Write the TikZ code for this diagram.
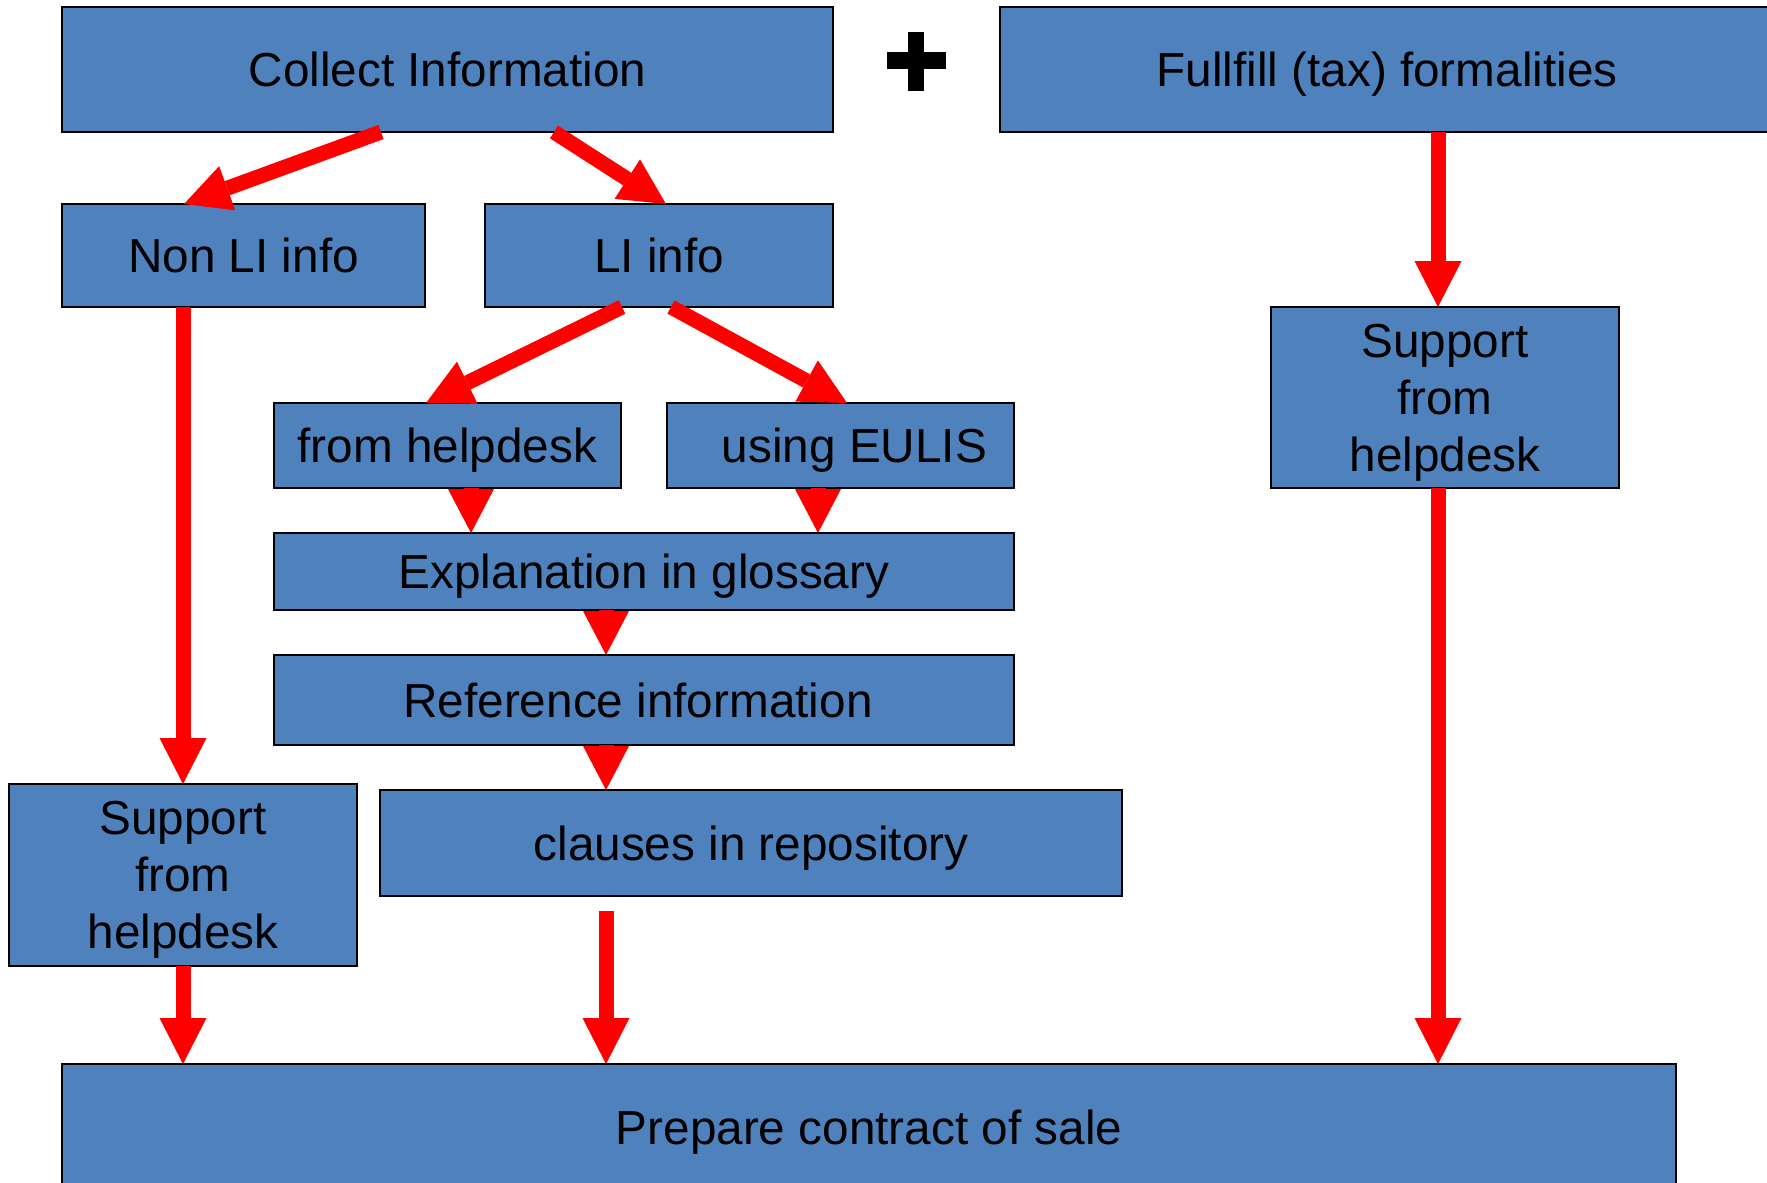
\documentclass[tikz,border=0pt]{standalone}
\usepackage{fontspec}
\setmainfont{Liberation Sans}
\usetikzlibrary{arrows.meta}
\definecolor{boxblue}{RGB}{79,129,189}
\definecolor{arrred}{RGB}{255,0,0}
\begin{document}
\begin{tikzpicture}[x=0.5pt,y=-0.5pt,
  box/.style={draw=black, line width=0.8pt, fill=boxblue, inner sep=0pt, outer sep=0pt,
    align=center, text=black, text depth=0pt, font=\fontsize{23.85}{28.5}\selectfont},
  arr/.style={draw=arrred, line width=7.5pt,
    -{Triangle[width=23.5pt,length=23pt,line width=0pt]}},
  stub/.style={draw=arrred, line width=7.5pt,
    -{Triangle[width=23pt,length=22pt,line width=0pt]}}]
\useasboundingbox (0,0) rectangle (1767,1183);
\fill[white] (0,0) rectangle (1767,1183);

% boxes
\node[box, minimum width=385.5pt, minimum height=62.5pt] (ci) at (447.5,69.5) {Collect Information};
\node[box, minimum width=387pt, minimum height=62.5pt] (ff) at (1387,69.5) {Fullfill (tax) formalities};
\node[box, minimum width=181.5pt, minimum height=51.5pt] (nonli) at (243.5,255.5) {Non LI info};
\node[box, minimum width=174pt, minimum height=51.5pt] (li) at (659,255.5) {LI info};
\node[box, minimum width=173.5pt, minimum height=42.5pt] (fh) at (447.5,445.5) {from helpdesk};
\node[box, minimum width=173.5pt, minimum height=42.5pt] (ue) at (840.5,445.5) {\hspace*{14pt}using EULIS};
\node[box, minimum width=370pt, minimum height=38.5pt] (ex) at (644,571.5) {Explanation in glossary};
\node[box, minimum width=370pt, minimum height=45pt] (ri) at (644,700) {Reference information\hspace*{6pt}};
\node[box, minimum width=371pt, minimum height=53pt] (cr) at (751,843) {clauses in repository};
\node[box, minimum width=174pt, minimum height=91pt] (sl) at (183,875) {Support\\from\\helpdesk};
\node[box, minimum width=174pt, minimum height=90.5pt] (sr) at (1445,397.5) {Support\\from\\helpdesk};
\node[box, minimum width=807pt, minimum height=63pt] (pc) at (869,1127) {Prepare contract of sale};

% plus sign
\fill[black] (908,32) rectangle (924,91);
\fill[black] (887,52) rectangle (946,69);

% connectors
\draw[arr] ([xshift=-33.25pt]ci.south) -- ([xshift=-29.75pt]nonli.north);
\draw[arr] ([xshift=53.25pt]ci.south) -- ([xshift=3.5pt]li.north);
\draw[arr] (nonli.south -| sl.north) -- (sl.north);
\draw[arr] ([xshift=-18.5pt]li.south) -- ([xshift=-10.75pt]fh.north);
\draw[arr] ([xshift=6pt]li.south) -- ([xshift=3.25pt]ue.north);
\draw[stub] ([xshift=11.75pt]fh.south) -- ([xshift=11.75pt]fh.south |- ex.north);
\draw[stub] ([xshift=-11.25pt]ue.south) -- ([xshift=-11.25pt]ue.south |- ex.north);
\draw[stub] ([xshift=-19pt]ex.south) -- ([xshift=-19pt]ex.south |- ri.north);
\draw[stub] ([xshift=-19pt]ri.south) -- ([xshift=-19pt]ri.south |- cr.north);
\draw[arr] (sl.south) -- (sl.south |- pc.north);
\coordinate (free) at (606,911);
\draw[arr] (free) -- (free |- pc.north);
\draw[arr] ([xshift=-3.5pt]sr.north |- ff.south) -- ([xshift=-3.5pt]sr.north);
\draw[arr] ([xshift=-3.5pt]sr.south) -- ([xshift=-3.5pt]sr.south |- pc.north);
\end{tikzpicture}
\end{document}
